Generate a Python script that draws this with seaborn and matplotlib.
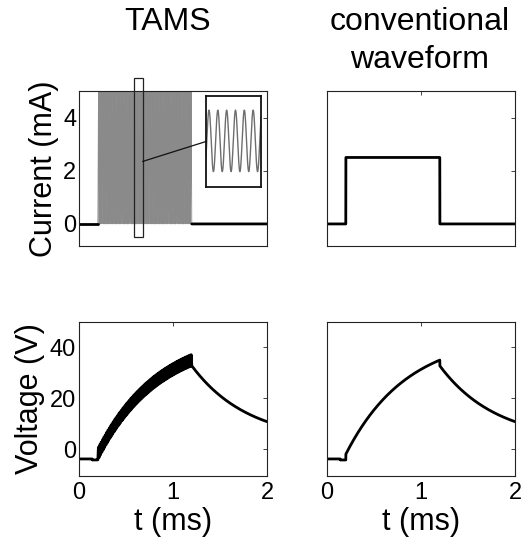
import numpy as np
import pandas as pd
import seaborn as sns
import matplotlib
matplotlib.use("Agg")
import matplotlib.pyplot as plt
from matplotlib.patches import Rectangle, ConnectionPatch

# stimulus timing and amplitudes
t_range_ms = [0.0, 2.0]
pulse_window_ms = [0.2, 1.2]
pulse_amp_ma = 2.5
carrier_khz = 70.0

# electrode response parameters
rest_v = [-3.8, -4.2]          # resting level, level just before the pulse
pre_dip_ms = 0.14
access_kohm = 0.9
charge_amp_v = 47.1
charge_tau_ms = 0.65
discharge_floor_v = 3.0
discharge_tau_ms = 0.6

# window of the carrier shown enlarged in the inset
inset_window_ms = [0.588, 0.677]
inset_box_ma = [-0.48, 5.5]
connector_start = [0.677, 2.35]

titles = ["TAMS", "conventional", "waveform"]
time_ticks = [0, 1, 2]
current_ticks = [0, 2, 4]
voltage_ticks = [0, 20, 40]
current_lim = [-0.83, 5.0]
voltage_lim = [-10.5, 50.0]

# ---------------------------------------------------------------- waveforms
t = np.linspace(t_range_ms[0], t_range_ms[1], 8001)
t_on, t_off = pulse_window_ms
on = (t >= t_on) & (t < t_off)
s = np.clip(t - t_on, 0, t_off - t_on)

i_conv = np.where(on, pulse_amp_ma, 0.0)
i_tams = np.where(on, pulse_amp_ma * (1 - np.cos(2 * np.pi * carrier_khz * (t - t_on))), 0.0)

cap = charge_amp_v * (1 - np.exp(-s / charge_tau_ms))
cap_end = charge_amp_v * (1 - np.exp(-(t_off - t_on) / charge_tau_ms))
v_before = np.where(t < pre_dip_ms, rest_v[0], rest_v[1])
v_during = rest_v[1] + access_kohm * pulse_amp_ma + cap
v_after = discharge_floor_v + (rest_v[1] + cap_end - discharge_floor_v) * np.exp(
    -(t - t_off) / discharge_tau_ms)
v_conv = np.where(t < t_on, v_before, np.where(on, v_during, v_after))
v_tams = v_conv + access_kohm * (i_tams - i_conv)

df = pd.DataFrame({"t": t, "i_conv": i_conv, "i_tams": i_tams,
                   "v_conv": v_conv, "v_tams": v_tams, "on": on})

# ---------------------------------------------------------------- styling
sns.set_style("white")
plt.rcParams["font.family"] = ["Liberation Sans", "DejaVu Sans"]
plt.rcParams.update({
    "text.color": "black",
    "axes.labelcolor": "black",
    "axes.edgecolor": "#222222",
    "axes.linewidth": 0.8,
    "xtick.direction": "in",
    "ytick.direction": "in",
    "xtick.major.size": 3,
    "ytick.major.size": 3,
    "xtick.major.width": 0.6,
    "ytick.major.width": 0.6,
    "xtick.top": True,
    "ytick.right": True,
    "xtick.color": "#222222",
    "ytick.color": "#222222",
    "xtick.labelcolor": "black",
    "ytick.labelcolor": "black",
})

W, H = 526, 541
fig = plt.figure(figsize=(W / 100, H / 100), dpi=100)


def px_axes(x0, y0, x1, y1):
    return fig.add_axes([x0 / W, 1 - y1 / H, (x1 - x0) / W, (y1 - y0) / H])


ax_it = px_axes(79, 91, 267, 246)
ax_ic = px_axes(327, 91, 515, 246)
ax_vt = px_axes(79, 322, 267, 476)
ax_vc = px_axes(327, 322, 515, 476)

LW = 2.0

# TAMS current: dense carrier in gray, zero baseline in black
sns.lineplot(data=df[df["on"]], x="t", y="i_tams", ax=ax_it, color="#8a8a8a",
             lw=0.6, estimator=None, sort=False)
sns.lineplot(data=df[df["t"] <= t_on], x="t", y="i_tams", ax=ax_it, color="black",
             lw=LW, estimator=None)
sns.lineplot(data=df[df["t"] >= t_off], x="t", y="i_tams", ax=ax_it, color="black",
             lw=LW, estimator=None)

# conventional current pulse
sns.lineplot(data=df, x="t", y="i_conv", ax=ax_ic, color="black", lw=LW, estimator=None)

# voltages
sns.lineplot(data=df, x="t", y="v_tams", ax=ax_vt, color="black", lw=LW, estimator=None,
             sort=False)
sns.lineplot(data=df, x="t", y="v_conv", ax=ax_vc, color="black", lw=LW, estimator=None)

for ax in (ax_it, ax_ic, ax_vt, ax_vc):
    ax.set_xlim(t_range_ms)
    ax.set_xticks(time_ticks)
    ax.set_xlabel("")
    ax.set_ylabel("")
    ax.tick_params(axis="y", labelsize=17, pad=2.0)
    ax.tick_params(axis="x", labelsize=17, pad=4.5)
    for sp in ax.spines.values():
        sp.set_visible(True)

for ax in (ax_it, ax_ic):
    ax.set_ylim(current_lim)
    ax.set_yticks(current_ticks)
    ax.set_xticklabels([])
for ax in (ax_vt, ax_vc):
    ax.set_ylim(voltage_lim)
    ax.set_yticks(voltage_ticks)
    ax.set_xticklabels([str(v) for v in time_ticks])
    ax.set_xlabel("t (ms)", fontsize=22)
    ax.xaxis.set_label_coords(0.5, -0.2)
for ax in (ax_ic, ax_vc):
    ax.set_yticklabels([])

ax_it.set_yticklabels([str(v) for v in current_ticks])
ax_vt.set_yticklabels([str(v) for v in voltage_ticks])
ax_it.set_ylabel("Current (mA)", fontsize=22)
ax_it.yaxis.set_label_coords(-0.106, 0.5)
ax_vt.set_ylabel("Voltage (V)", fontsize=22)
ax_vt.yaxis.set_label_coords(-0.18, 0.5)

fig.text(168 / W, 1 - 30 / H, titles[0], fontsize=23, ha="center", va="baseline")
fig.text(420 / W, 1 - 30 / H, titles[1], fontsize=23, ha="center", va="baseline")
fig.text(420 / W, 1 - 68 / H, titles[2], fontsize=23, ha="center", va="baseline")

# selection box around a short stretch of the carrier
w0, w1 = inset_window_ms
ax_it.add_patch(Rectangle((w0, inset_box_ma[0]), w1 - w0, inset_box_ma[1] - inset_box_ma[0],
                          fill=False, ec="#222222", lw=0.9, clip_on=False, zorder=5))

# inset with the enlarged carrier
ax_in = px_axes(206, 96, 261, 187)
win = df[(df["t"] >= w0) & (df["t"] <= w1)]
sns.lineplot(data=win, x="t", y="i_tams", ax=ax_in, color="#6e6e6e", lw=1.0,
             estimator=None)
ax_in.set_xlim(w0, w1)
ax_in.set_ylim(-1.25, 6.15)
ax_in.set_xticks([])
ax_in.set_yticks([])
ax_in.set_xlabel("")
ax_in.set_ylabel("")
ax_in.tick_params(top=False, right=False)
for sp in ax_in.spines.values():
    sp.set_visible(True)
    sp.set_color("#111111")
    sp.set_linewidth(1.3)

con = ConnectionPatch(xyA=tuple(connector_start), coordsA=ax_it.transData,
                      xyB=(0.0, 0.5), coordsB=ax_in.transAxes,
                      color="#111111", lw=0.9, zorder=6)
fig.add_artist(con)

fig.savefig("out.png", dpi=100)
